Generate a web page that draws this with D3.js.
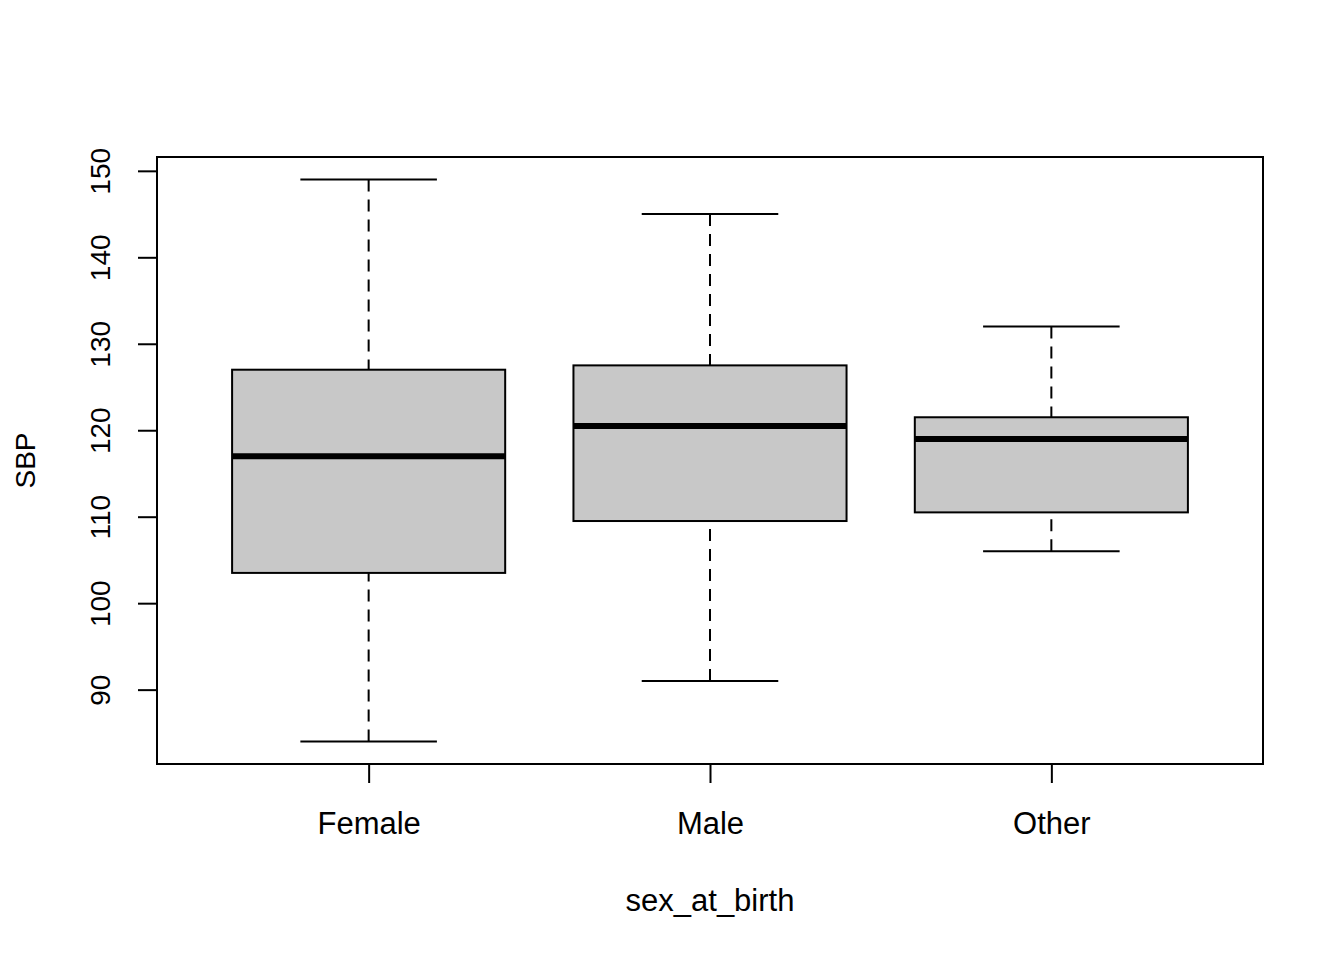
<!DOCTYPE html>
<html>
<head>
<meta charset="utf-8">
<script src="https://cdn.jsdelivr.net/npm/d3@7"></script>
<style>
  html, body { margin: 0; padding: 0; background: #fff; }
  svg { display: block; font-family: "Liberation Sans", Arial, Helvetica, sans-serif; }
</style>
</head>
<body>
<svg id="chart" width="1344" height="960"></svg>
<script>
// ---- data ----
const categories = ["Female", "Male", "Other"];
const whiskerLow  = [84, 91, 106];
const q1          = [103.5, 109.5, 110.5];
const median      = [117, 120.5, 119];
const q3          = [127, 127.5, 121.5];
const whiskerHigh = [149, 145, 132];
const yTicks = [90, 100, 110, 120, 130, 140, 150];
const xTitle = "sex_at_birth";
const yTitle = "SBP";

// ---- layout ----
const plot = { left: 157, right: 1263, top: 157, bottom: 764 };
const svg = d3.select("#chart");

const lo = d3.min(whiskerLow), hi = d3.max(whiskerHigh);
const pad = (hi - lo) * 0.04;
const y = d3.scaleLinear().domain([lo - pad, hi + pad]).range([plot.bottom, plot.top]);
const n = categories.length;
const xPad = n * 0.04;
const x = d3.scaleLinear().domain([0.5 - xPad, n + 0.5 + xPad]).range([plot.left, plot.right]);

const boxHalf = 0.4, stapleHalf = 0.2;
const data = categories.map((c, i) => ({
  c, i: i + 1, lo: whiskerLow[i], q1: q1[i], med: median[i], q3: q3[i], hi: whiskerHigh[i]
}));

const g = svg.append("g");
const boxes = g.selectAll("g.box").data(data).join("g").attr("class", "box");

// whiskers (dashed), drawn from whisker end toward the box
boxes.append("line")
  .attr("x1", d => x(d.i)).attr("x2", d => x(d.i))
  .attr("y1", d => y(d.hi)).attr("y2", d => y(d.q3))
  .attr("stroke", "#000").attr("stroke-width", 2).attr("stroke-dasharray", "12 8");
boxes.append("line")
  .attr("x1", d => x(d.i)).attr("x2", d => x(d.i))
  .attr("y1", d => y(d.lo)).attr("y2", d => y(d.q1))
  .attr("stroke", "#000").attr("stroke-width", 2).attr("stroke-dasharray", "12 8");
// staples
boxes.append("line")
  .attr("x1", d => x(d.i - stapleHalf)).attr("x2", d => x(d.i + stapleHalf))
  .attr("y1", d => y(d.hi)).attr("y2", d => y(d.hi))
  .attr("stroke", "#000").attr("stroke-width", 2);
boxes.append("line")
  .attr("x1", d => x(d.i - stapleHalf)).attr("x2", d => x(d.i + stapleHalf))
  .attr("y1", d => y(d.lo)).attr("y2", d => y(d.lo))
  .attr("stroke", "#000").attr("stroke-width", 2);
// box
boxes.append("rect")
  .attr("x", d => x(d.i - boxHalf))
  .attr("width", d => x(d.i + boxHalf) - x(d.i - boxHalf))
  .attr("y", d => y(d.q3))
  .attr("height", d => y(d.q1) - y(d.q3))
  .attr("fill", "#c8c8c8").attr("stroke", "#000").attr("stroke-width", 2);
// median
boxes.append("line")
  .attr("x1", d => x(d.i - boxHalf)).attr("x2", d => x(d.i + boxHalf))
  .attr("y1", d => y(d.med)).attr("y2", d => y(d.med))
  .attr("stroke", "#000").attr("stroke-width", 6);

// frame
svg.append("rect")
  .attr("x", plot.left).attr("y", plot.top)
  .attr("width", plot.right - plot.left).attr("height", plot.bottom - plot.top)
  .attr("fill", "none").attr("stroke", "#000").attr("stroke-width", 2);

// y axis
const yAxis = d3.axisLeft(y).tickValues(yTicks).tickSize(19).tickPadding(0).tickFormat(d3.format("d"));
const ya = svg.append("g").attr("transform", `translate(${plot.left},0)`).call(yAxis);
ya.select(".domain").remove();
ya.selectAll(".tick line").attr("stroke", "#000").attr("stroke-width", 2);
ya.selectAll(".tick text")
  .attr("x", 0).attr("y", 0)
  .attr("transform", `translate(${-57},0) rotate(-90)`)
  .attr("text-anchor", "middle").attr("dy", "0.35em")
  .attr("font-size", 28).attr("fill", "#000")
  .style("font-family", "'Liberation Sans', Arial, sans-serif");

// x axis
const xAxis = d3.axisBottom(x).tickValues(data.map(d => d.i)).tickSize(19).tickPadding(0)
  .tickFormat(v => categories[v - 1]);
const xa = svg.append("g").attr("transform", `translate(0,${plot.bottom})`).call(xAxis);
xa.select(".domain").remove();
xa.selectAll(".tick line").attr("stroke", "#000").attr("stroke-width", 2);
xa.selectAll(".tick text")
  .attr("y", 70).attr("dy", 0)
  .attr("font-size", 31).attr("fill", "#000")
  .style("font-family", "'Liberation Sans', Arial, sans-serif");

// titles
svg.append("text")
  .attr("x", (plot.left + plot.right) / 2).attr("y", 911)
  .attr("text-anchor", "middle").attr("font-size", 31).text(xTitle);
svg.append("text")
  .attr("transform", `translate(35,${(plot.top + plot.bottom) / 2}) rotate(-90)`)
  .attr("text-anchor", "middle").attr("font-size", 28).text(yTitle);
</script>
</body>
</html>
